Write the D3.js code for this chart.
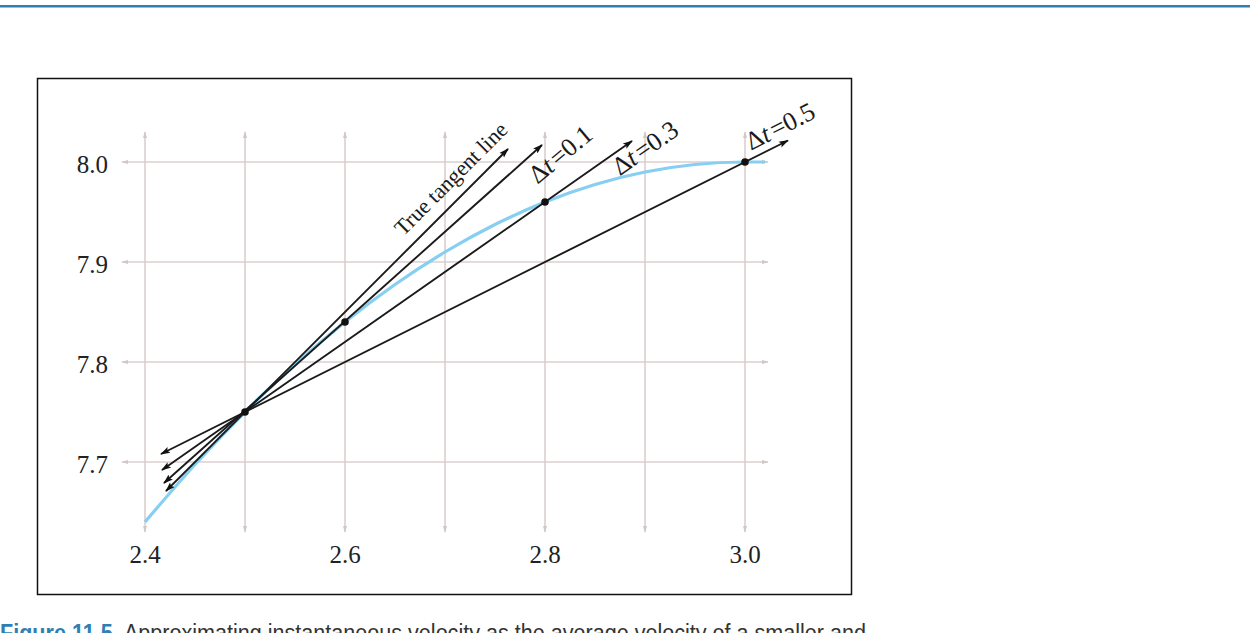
<!DOCTYPE html>
<html lang="en">
<head>
<meta charset="utf-8">
<title>Tangent and secant lines</title>
<script src="https://d3js.org/d3.v7.min.js"></script>
<style>
  body { margin: 0; background: #fff; }
  svg { display: block; }
</style>
</head>
<body>
<script>
// data
var xTicks = [2.4, 2.6, 2.8, 3.0];
var xGrid = [2.4, 2.5, 2.6, 2.7, 2.8, 2.9, 3.0];
var yTicks = [7.7, 7.8, 7.9, 8.0];

// position curve s(t)
var curveT = [2.4, 2.45, 2.5, 2.55, 2.6, 2.65, 2.7, 2.75, 2.8, 2.85, 2.9, 2.95, 3.0, 3.02];
var curveS = [7.64, 7.6975, 7.75, 7.7975, 7.84, 7.8775, 7.91, 7.9375, 7.96, 7.9775, 7.99, 7.9975, 8.0, 8.0];

// marked points
var dotT = [2.5, 2.6, 2.8, 3.0];
var dotS = [7.75, 7.84, 7.96, 8.0];

var lineNames = ["tangent", "dt0.1", "dt0.3", "dt0.5"];
var lineT0 = [2.421, 2.419, 2.417, 2.416];
var lineS0 = [7.671, 7.679, 7.692, 7.708];
var lineT1 = [2.763, 2.797, 2.887, 3.043];
var lineS1 = [8.013, 8.017, 8.021, 8.0215];

var W = 1250, H = 633;
var svg = d3.select("body").append("svg")
  .attr("width", W)
  .attr("height", H);

var x = d3.scaleLinear().domain([2.4, 3.0]).range([145, 745]);
var y = d3.scaleLinear().domain([7.7, 8.0]).range([462, 162]);

var defs = svg.append("defs");
defs.append("marker")
  .attr("id", "arr")
  .attr("viewBox", "0 0 10 10")
  .attr("refX", 9).attr("refY", 5)
  .attr("markerWidth", 10).attr("markerHeight", 10)
  .attr("markerUnits", "userSpaceOnUse")
  .attr("orient", "auto-start-reverse")
  .append("path")
  .attr("d", "M0,1.8 L10,5 L0,8.2 L2,5 Z")
  .attr("fill", "#111");
defs.append("marker")
  .attr("id", "garr")
  .attr("viewBox", "0 0 10 10")
  .attr("refX", 9).attr("refY", 5)
  .attr("markerWidth", 7).attr("markerHeight", 7)
  .attr("markerUnits", "userSpaceOnUse")
  .attr("orient", "auto-start-reverse")
  .append("path")
  .attr("d", "M0,2 L10,5 L0,8 Z")
  .attr("fill", "#d3c6c6");

// running header rule
svg.append("rect").attr("x", 0).attr("y", 5).attr("width", W).attr("height", 2.5).attr("fill", "#2f7fb3");

// frame
svg.append("rect")
  .attr("x", 37.5).attr("y", 78.5)
  .attr("width", 814).attr("height", 516)
  .attr("fill", "none")
  .attr("stroke", "#111")
  .attr("stroke-width", 1.5);

// grid
var grid = svg.append("g");
grid.selectAll("line.v")
  .data(xGrid)
  .enter().append("line")
  .attr("class", "v")
  .attr("x1", function(d){ return x(d); })
  .attr("x2", function(d){ return x(d); })
  .attr("y1", y(8.03))
  .attr("y2", y(7.63))
  .attr("stroke", "#dccfcf")
  .attr("stroke-width", 1.6)
  .attr("marker-start", "url(#garr)")
  .attr("marker-end", "url(#garr)");

grid.selectAll("line.h")
  .data(yTicks)
  .enter().append("line")
  .attr("class", "h")
  .attr("x1", x(2.377))
  .attr("x2", x(3.023))
  .attr("y1", function(d){ return y(d); })
  .attr("y2", function(d){ return y(d); })
  .attr("stroke", "#dccfcf")
  .attr("stroke-width", 1.6)
  .attr("marker-start", "url(#garr)")
  .attr("marker-end", "url(#garr)");

// tick labels
svg.append("g").selectAll("text")
  .data(xTicks)
  .enter().append("text")
  .attr("x", function(d){ return x(d); })
  .attr("y", 563)
  .attr("text-anchor", "middle")
  .attr("font-family", "Liberation Serif, serif")
  .attr("font-size", 25)
  .attr("fill", "#222")
  .text(function(d){ return d.toFixed(1); });

svg.append("g").selectAll("text")
  .data(yTicks)
  .enter().append("text")
  .attr("x", 108)
  .attr("y", function(d){ return y(d) + 11; })
  .attr("text-anchor", "end")
  .attr("font-family", "Liberation Serif, serif")
  .attr("font-size", 25)
  .attr("fill", "#222")
  .text(function(d){ return d.toFixed(1); });

// the curve
var curvePts = curveT.map(function(t, i){ return [t, curveS[i]]; });
svg.append("path")
  .datum(curvePts)
  .attr("d", d3.line()
    .x(function(d){ return x(d[0]); })
    .y(function(d){ return y(d[1]); })
    .curve(d3.curveMonotoneX))
  .attr("fill", "none")
  .attr("stroke", "#86cff2")
  .attr("stroke-width", 3.2);

// tangent and secants
svg.append("g").selectAll("line")
  .data(lineNames)
  .enter().append("line")
  .attr("x1", function(d, i){ return x(lineT0[i]); })
  .attr("y1", function(d, i){ return y(lineS0[i]); })
  .attr("x2", function(d, i){ return x(lineT1[i]); })
  .attr("y2", function(d, i){ return y(lineS1[i]); })
  .attr("stroke", "#1a1a1a")
  .attr("stroke-width", 1.9)
  .attr("marker-start", "url(#arr)")
  .attr("marker-end", "url(#arr)");

// dots
svg.append("g").selectAll("circle")
  .data(dotT)
  .enter().append("circle")
  .attr("cx", function(d){ return x(d); })
  .attr("cy", function(d, i){ return y(dotS[i]); })
  .attr("r", 3.8)
  .attr("fill", "#111");

// line labels
var lab = svg.append("g")
  .attr("font-family", "Liberation Serif, serif")
  .attr("fill", "#1a1a1a");

lab.append("text")
  .attr("transform", "translate(456,184) rotate(-45)")
  .attr("text-anchor", "middle")
  .attr("font-size", 22)
  .text("True tangent line");

function dtLabel(cx, cy, ang, val) {
  var t = lab.append("text")
    .attr("transform", "translate(" + cx + "," + cy + ") rotate(" + ang + ")")
    .attr("text-anchor", "middle")
    .attr("font-size", 26);
  t.append("tspan").text("\u0394");
  t.append("tspan").attr("font-style", "italic").text("t");
  t.append("tspan").attr("dx", 3).text("=" + val);
}
dtLabel(566, 161, -40, "0.1");
dtLabel(650, 155, -35, "0.3");
dtLabel(784, 134, -27, "0.5");

// caption (cut off by page edge, as in the source)
var cap = svg.append("text")
  .attr("x", 0)
  .attr("y", 641)
  .attr("font-family", "Liberation Sans, Arial, sans-serif")
  .attr("font-size", 23)
  .attr("textLength", 866)
  .attr("lengthAdjust", "spacingAndGlyphs");
cap.append("tspan").attr("fill", "#2f7fb3").attr("font-weight", "bold").text("Figure 11.5");
cap.append("tspan").attr("dx", 12).attr("fill", "#333").text("Approximating instantaneous velocity as the average velocity of a smaller and");
</script>
</body>
</html>
